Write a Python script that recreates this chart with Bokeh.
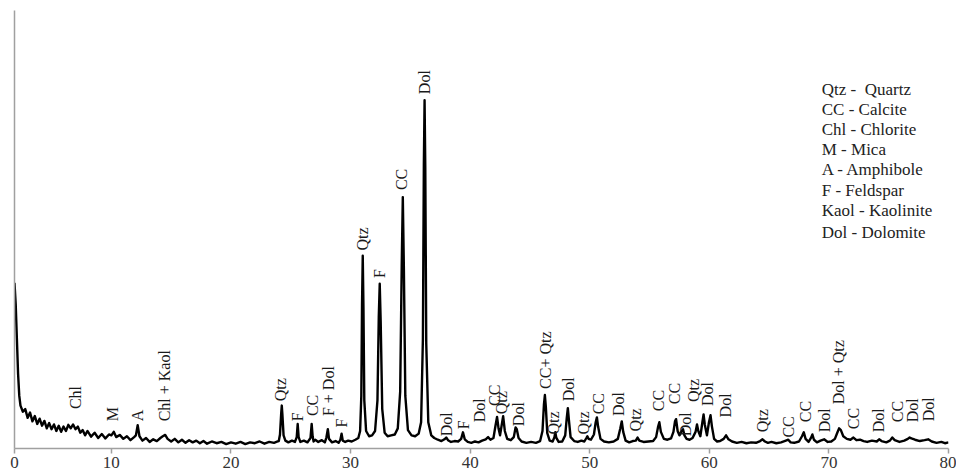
import math
from bokeh.plotting import figure
from bokeh.models import Range1d, FixedTicker, LinearAxis, ColumnDataSource
from bokeh.core.properties import value
from bokeh.embed import file_html
from bokeh.resources import INLINE

# ---------------- data: XRD pattern (2-theta, intensity a.u.) ----------------
tt1 = [1.9, 2.0, 2.1, 2.2, 2.3, 2.4, 2.6, 2.8, 3.0, 3.2, 3.4, 3.6, 3.8, 4.0, 4.2, 4.4, 4.6, 4.8, 5.0, 5.2,
       5.4, 5.6, 5.8, 6.0, 6.2, 6.4, 6.6, 6.8, 7.0, 7.2, 7.4, 7.6, 7.8, 8.0, 8.3, 8.6, 8.9, 9.2, 9.5, 9.8]
in1 = [378, 330, 250, 170, 120, 98, 84, 90, 70, 82, 62, 74, 56, 68, 52, 63, 46, 58, 44, 55,
       40, 52, 38, 50, 40, 54, 46, 55, 44, 50, 36, 42, 30, 40, 27, 36, 24, 33, 23, 32]

tt2 = [10.0, 10.2, 10.4, 10.7, 11.0, 11.3, 11.6, 11.9, 12.05, 12.2, 12.35, 12.6, 12.9, 13.2, 13.5, 13.8,
       14.1, 14.3, 14.5, 14.7, 15.0, 15.3, 15.6, 15.9, 16.2, 16.5, 16.8, 17.1, 17.4, 17.7, 18.0, 18.4,
       18.8, 19.2, 19.6, 20.0, 20.4, 20.8, 21.2, 21.6, 22.0, 22.4, 22.8, 23.2, 23.6, 23.9]
in2 = [30, 38, 26, 31, 22, 28, 19, 26, 30, 53, 28, 18, 24, 15, 21, 17,
       24, 28, 31, 22, 16, 22, 14, 20, 13, 19, 14, 18, 12, 17, 11, 16,
       12, 15, 10, 14, 11, 15, 10, 14, 12, 16, 11, 15, 13, 16]

tt3 = [24.0, 24.1, 24.2, 24.25, 24.3, 24.4, 24.55, 24.8, 25.1, 25.35, 25.5, 25.58, 25.66, 25.8, 26.1,
       26.4, 26.65, 26.75, 26.83, 26.91, 27.05, 27.3, 27.6, 27.85, 27.98, 28.1, 28.2, 28.45, 28.75,
       29.0, 29.15, 29.25, 29.35, 29.55, 29.8, 30.1, 30.4, 30.65]
in3 = [17, 32, 80, 98, 78, 30, 18, 14, 18, 15, 26, 56, 26, 15, 18,
       14, 24, 56, 28, 16, 20, 15, 19, 14, 25, 44, 22, 14, 17,
       13, 20, 34, 18, 15, 18, 16, 20, 24]

tt4 = [30.8, 30.9, 30.96, 31.02, 31.08, 31.15, 31.3, 31.55, 31.8, 32.05, 32.25, 32.36, 32.44, 32.52,
       32.65, 32.85, 33.1, 33.4, 33.7, 33.95, 34.15, 34.28, 34.37, 34.46, 34.58, 34.8, 35.1, 35.4,
       35.7, 35.9, 36.05, 36.13, 36.19, 36.25, 36.33, 36.5, 36.75, 37.0]
in4 = [40, 120, 330, 440, 320, 110, 40, 28, 30, 40, 110, 300, 376, 290,
       90, 36, 28, 30, 32, 46, 130, 420, 574, 410, 120, 42, 30, 28,
       34, 60, 250, 650, 795, 640, 240, 60, 30, 24]

tt5 = [37.3, 37.6, 37.85, 38.0, 38.15, 38.4, 38.7, 39.0, 39.25, 39.4, 39.55, 39.8, 40.1, 40.4, 40.7,
       41.0, 41.3, 41.5, 41.7, 41.95, 42.12, 42.25, 42.38, 42.5, 42.63, 42.76, 42.9, 43.1, 43.4,
       43.65, 43.8, 43.9, 44.05, 44.3, 44.7, 45.1, 45.5, 45.85, 46.05, 46.17, 46.25, 46.33, 46.45,
       46.65, 46.9, 47.05, 47.12, 47.2, 47.4, 47.7]
in5 = [20, 17, 21, 25, 19, 15, 17, 16, 22, 37, 21, 15, 13, 16, 14,
       18, 21, 26, 20, 24, 52, 72, 45, 30, 52, 74, 40, 22, 19,
       26, 48, 44, 24, 16, 13, 15, 13, 17, 40, 100, 122, 95, 35,
       18, 16, 26, 37, 25, 15, 16]

tt6 = [47.95, 48.08, 48.17, 48.26, 48.4, 48.7, 49.0, 49.3, 49.55, 49.72, 49.8, 49.9, 50.1, 50.35,
       50.5, 50.6, 50.7, 50.9, 51.2, 51.6, 52.0, 52.35, 52.55, 52.68, 52.8, 53.0, 53.3, 53.6, 53.85,
       54.0, 54.15, 54.5, 54.9, 55.3, 55.55, 55.72, 55.82, 55.95, 56.2, 56.5, 56.8, 57.0, 57.13,
       57.22, 57.35, 57.5, 57.68, 57.8, 57.92, 58.1, 58.35, 58.6, 58.85, 58.97, 59.08, 59.25, 59.42,
       59.52, 59.62, 59.8, 59.97, 60.1, 60.22, 60.4, 60.65, 60.9]
in6 = [30, 70, 92, 65, 26, 17, 15, 18, 16, 24, 28, 22, 20, 32,
       60, 71, 50, 22, 16, 14, 16, 22, 45, 62, 38, 18, 14, 17, 18,
       25, 18, 15, 16, 17, 26, 50, 60, 38, 22, 20, 23, 38, 62,
       67, 40, 30, 40, 44, 30, 22, 20, 24, 38, 55, 40, 28, 60,
       78, 55, 30, 60, 76, 50, 22, 16, 17]

tt7 = [61.2, 61.4, 61.6, 61.9, 62.3, 62.7, 63.1, 63.5, 63.9, 64.25, 64.45, 64.65, 64.9, 65.2, 65.6,
       66.0, 66.4, 66.6, 66.8, 67.1, 67.5, 67.75, 67.9, 68.05, 68.3, 68.5, 68.62, 68.75, 69.0, 69.3,
       69.6, 69.9, 70.2, 70.5, 70.7, 70.85, 71.0, 71.2, 71.5, 71.8, 72.05, 72.3, 72.6, 72.9, 73.2,
       73.6, 74.0, 74.2, 74.4, 74.8, 75.1, 75.3, 75.5, 75.9, 76.3, 76.6, 76.75, 76.9, 77.2, 77.6,
       78.0, 78.3, 78.6, 79.0, 79.4, 79.7, 80.0]
in7 = [22, 30, 21, 16, 13, 15, 12, 14, 13, 17, 21, 16, 13, 15, 12,
       14, 18, 20, 14, 13, 16, 28, 37, 22, 15, 24, 32, 20, 14, 18,
       21, 15, 16, 22, 36, 46, 42, 28, 22, 20, 25, 19, 20, 17, 15,
       18, 16, 21, 17, 14, 18, 25, 19, 15, 18, 22, 25, 23, 20, 17,
       19, 21, 16, 13, 15, 12, 14]

# ---------------- peak annotations ----------------
peak_text = ["Chl", "M", "A", "Chl + Kaol", "Qtz", "F", "CC", "F + Dol", "F",
             "Qtz", "F", "CC", "Dol", "Dol", "F", "Dol", "CC", "Qtz", "Dol",
             "CC+ Qtz", "Qtz", "Dol", "Qtz", "CC", "Dol", "Qtz", "CC", "CC", "Dol",
             "Qtz", "Dol", "Dol", "Qtz", "CC", "CC", "Dol", "Dol + Qtz", "CC", "Dol",
             "CC", "Dol", "Dol"]
peak_x = [6.99, 10.08, 12.18, 14.44, 24.14, 25.56, 26.81, 28.15, 29.24,
          31.0, 32.42, 34.26, 36.18, 38.02, 39.44, 40.78, 42.03, 42.62, 44.04,
          46.3, 46.97, 48.22, 49.48, 50.73, 52.4, 53.83, 55.75, 57.09, 58.01,
          58.68, 59.85, 61.35, 64.45, 66.62, 68.04, 69.63, 70.8, 72.06, 74.15,
          75.74, 76.99, 78.33]
peak_y = [90, 62, 62, 62, 108, 62, 74, 74, 48,
          452, 389, 590, 809, 28, 44, 60, 97, 78, 51,
          136, 32, 108, 32, 78, 74, 39, 85, 101, 28,
          106, 97, 71, 37, 25, 60, 37, 101, 44, 37,
          60, 60, 62]

legend_lines = ["Qtz -\u00a0 Quartz", "CC - Calcite", "Chl - Chlorite", "M - Mica",
                "A - Amphibole", "F - Feldspar", "Kaol - Kaolinite", "Dol - Dolomite"]

tick_positions = [1.9, 10, 20, 30, 40, 50, 60, 70, 80]
tick_labels = ["0", "10", "20", "30", "40", "50", "60", "70", "80"]

# ---------------- figure ----------------
two_theta = tt1 + tt2 + tt3 + tt4 + tt5 + tt6 + tt7
intensity = in1 + in2 + in3 + in4 + in5 + in6 + in7

FONT = value("Liberation Serif")
AXIS_GREY = "#a0a0a0"

p = figure(width=956, height=470, output_backend="svg", toolbar_location=None,
           x_range=Range1d(tick_positions[0], tick_positions[-1]), y_range=Range1d(0, 1000),
           y_axis_location=None, min_border_left=14, min_border_right=8,
           min_border_top=10, min_border_bottom=0)
p.outline_line_color = None
p.xgrid.visible = False
p.ygrid.visible = False
p.background_fill_color = "white"

yax = LinearAxis(ticker=FixedTicker(ticks=[]))
yax.axis_line_color = AXIS_GREY
yax.axis_line_width = 1.5
yax.major_tick_out = 0
yax.major_tick_in = 0
yax.minor_tick_out = 0
yax.minor_tick_in = 0
yax.major_label_standoff = 0
p.add_layout(yax, "left")

xa = p.xaxis[0]
xa.ticker = FixedTicker(ticks=tick_positions)
xa.major_label_overrides = {tick_positions[0]: tick_labels[0]}
xa.axis_line_color = AXIS_GREY
xa.axis_line_width = 1.5
xa.major_tick_line_color = AXIS_GREY
xa.major_tick_line_width = 1.5
xa.major_tick_out = 5
xa.major_tick_in = 0
xa.minor_tick_line_color = None
xa.major_label_standoff = 3
xa.major_label_text_font = "Liberation Serif"
xa.major_label_text_font_size = "17px"
xa.major_label_text_color = "#333333"

p.line(two_theta, intensity, line_color="black", line_width=2.4, line_join="round")

src = ColumnDataSource(dict(x=peak_x, y=peak_y, t=peak_text))
p.text(x="x", y="y", text="t", source=src, angle=math.pi / 2,
       text_align="left", text_baseline="middle", text_font=FONT,
       text_font_size="16px", text_color="#1a1a1a")

# legend block (layout positions in data space)
leg_x = 69.4
leg_top = 820
leg_step = 46
leg_y = [leg_top - i * leg_step - (5 if i == len(legend_lines) - 1 else 0) for i in range(len(legend_lines))]
p.text(x=[leg_x] * len(legend_lines), y=leg_y, text=legend_lines,
       text_align="left", text_baseline="middle", text_font=FONT,
       text_font_size="17px", text_color="#222222")

open("out.html", "w").write(file_html(p, INLINE))
